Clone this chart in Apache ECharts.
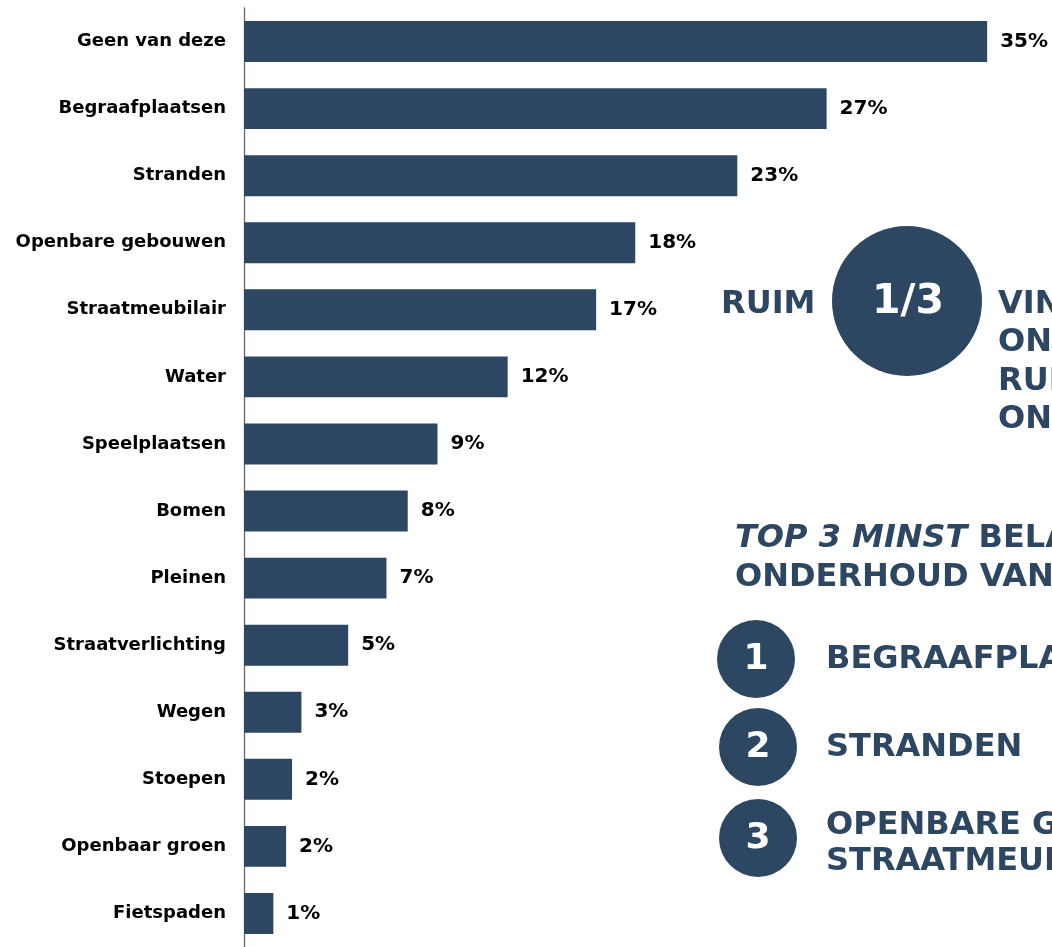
<!DOCTYPE html>
<html>
<head>
<meta charset="utf-8">
<script src="https://cdn.jsdelivr.net/npm/echarts@6/dist/echarts.min.js"></script>
<style>html,body{margin:0;padding:0;background:#fff}#c{width:1052px;height:947px}</style>
</head>
<body>
<div id="c"></div>
<script>
const categories = ['Geen van deze','Begraafplaatsen','Stranden','Openbare gebouwen','Straatmeubilair','Water','Speelplaatsen','Bomen','Pleinen','Straatverlichting','Wegen','Stoepen','Openbaar groen','Fietspaden'];
const values = [34.95, 27.4, 23.2, 18.4, 16.56, 12.4, 9.1, 7.7, 6.7, 4.9, 2.7, 2.26, 1.98, 1.38];
const top3 = ['BEGRAAFPLAATSEN','STRANDEN','OPENBARE GEBOUWEN /\nSTRAATMEUBILAIR'];

const NAVY = '#2D4662';
const FONT = '"DejaVu Sans", Verdana, sans-serif';
const chart = echarts.init(document.getElementById('c'), null, {renderer:'canvas'});

const graphics = [
  {type:'text', x:721, y:305, style:{text:'RUIM', font:'bold 32px '+FONT, fill:NAVY, verticalAlign:'middle'}},
  {type:'circle', shape:{cx:907, cy:301, r:75}, style:{fill:NAVY}},
  {type:'text', x:908, y:302, style:{text:'1/3', font:'bold 41px '+FONT, fill:'#fff', align:'center', verticalAlign:'middle'}},
  {type:'text', x:998, y:285, style:{text:'VINDT HET\nONDERHOUD\nRUIM\nONVOLDOENDE', font:'bold 32px '+FONT, fill:NAVY, lineHeight:38.5, verticalAlign:'top'}},
  {type:'text', x:735, y:519, style:{text:'{i|TOP 3 MINST} BELANGRIJK\nONDERHOUD VAN', font:'bold 32px '+FONT, fill:NAVY, lineHeight:39, verticalAlign:'top',
     rich:{i:{font:'italic bold 32px '+FONT, fill:NAVY, lineHeight:39}}}}
];
const cys = [659, 747, 838];
const cxs = [756, 758, 758];
for (let i = 0; i < 3; i++) {
  graphics.push({type:'circle', shape:{cx:cxs[i], cy:cys[i], r:39}, style:{fill:NAVY}});
  graphics.push({type:'text', x:cxs[i], y:cys[i]+1, style:{text:String(i+1), font:'bold 36px '+FONT, fill:'#fff', align:'center', verticalAlign:'middle'}});
  graphics.push({type:'text', x:826, y:(i===2 ? 844 : cys[i]+1), style:{text:top3[i], font:'bold 32px '+FONT, fill:NAVY, verticalAlign:'middle', lineHeight:36}});
}

chart.setOption({
  animation:false,
  backgroundColor:'#fff',
  grid:{left:244, right:0, top:8, bottom:-5, containLabel:false},
  xAxis:{type:'value', min:0, max:38, show:false},
  yAxis:{type:'category', data:categories, inverse:true,
    axisLine:{show:true, lineStyle:{color:'#5a6a80', width:1.3}},
    axisTick:{show:false},
    axisLabel:{margin:18, color:'#000', fontFamily:FONT, fontWeight:'bold', fontSize:18}},
  series:[{type:'bar', data:values, barCategoryGap:'39%',
    itemStyle:{color:NAVY},
    label:{show:true, position:'right', distance:13, color:'#000', fontFamily:FONT, fontWeight:'bold', fontSize:20,
      formatter:p => Math.round(p.value) + '%'}}],
  graphic: graphics
});
</script>
</body>
</html>
